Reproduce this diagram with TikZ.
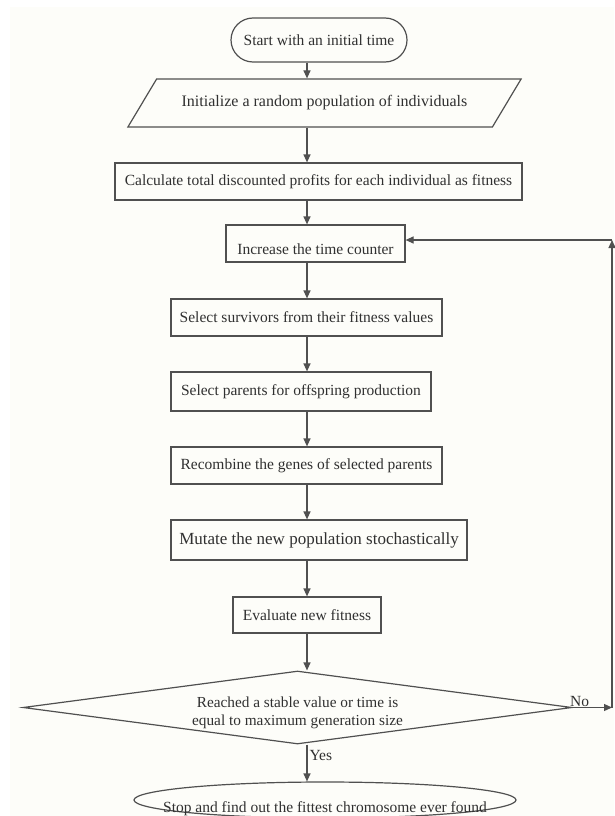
\documentclass[tikz,border=0pt]{standalone}
\usepackage{fontspec}
\setmainfont{Liberation Serif}
\usetikzlibrary{shapes.geometric,shapes.misc,arrows.meta}
\definecolor{linegray}{HTML}{505050}
\definecolor{textgray}{HTML}{303030}
\definecolor{paper}{HTML}{FDFDF9}

\begin{document}
\begin{tikzpicture}[x=1pt,y=-1pt,
    every node/.style={text=textgray, font=\fontsize{15.5}{17}\selectfont},
    box/.style={draw=linegray, line width=1.2pt, inner sep=0pt},
    arr/.style={draw=linegray, line width=1.2pt, -{Triangle[length=8pt,width=7pt]}}]
  \useasboundingbox (0,0) rectangle (614,816);
  \fill[paper] (10,7) rectangle (614,816);
  \coordinate (ax) at (307,0);

  \node [box, rounded rectangle, minimum width=176pt, minimum height=44pt] (start) at (319,40) {Start with an initial time};
  \node [box, trapezium, trapezium left angle=31, trapezium right angle=149, trapezium stretches=true,
         minimum width=395pt, minimum height=48pt, font=\fontsize{16}{18}\selectfont] (init) at (324.5,103) {Initialize a random population of individuals};
  \node [box, minimum width=407pt, minimum height=37pt] (calc) at (318.5,181.5) {Calculate total discounted profits for each individual as fitness};
  \node [box, minimum width=179pt, minimum height=37pt, text height=22pt, text depth=0pt] (inc) at (315.5,243.5) {Increase the time counter};
  \node [box, minimum width=271pt, minimum height=37pt] (surv) at (306.5,317.5) {Select survivors from their fitness values};
  \node [box, minimum width=260pt, minimum height=39pt] (par) at (301,391.5) {Select parents for offspring production};
  \node [box, minimum width=271pt, minimum height=37pt] (rec) at (306.5,465.5) {Recombine the genes of selected parents};
  \node [box, minimum width=296pt, minimum height=40pt, font=\fontsize{17}{19}\selectfont] (mut) at (319,540) {Mutate the new population stochastically};
  \node [box, minimum width=148pt, minimum height=36pt] (eva) at (307,615) {Evaluate new fitness};
  \node [box, diamond, aspect=7.5, minimum width=549pt, minimum height=73pt, align=center,
         font=\fontsize{15.3}{18}\selectfont] (dec) at (297.5,707.5) {\rule{0pt}{21pt}Reached a stable value or time is\\equal to maximum generation size};
  \node [box, ellipse, minimum width=382pt, minimum height=36pt, text height=25pt, text depth=0pt] (stop) at (325,800) {\makebox[0pt]{Stop and find out the fittest chromosome ever found}};

  \draw [arr] (start.south -| ax) -- (init.north -| ax);
  \draw [arr] (init.south -| ax) -- (calc.north -| ax);
  \draw [arr] (calc.south -| ax) -- (inc.north -| ax);
  \draw [arr] (inc.south -| ax) -- (surv.north -| ax);
  \draw [arr] (surv.south -| ax) -- (par.north -| ax);
  \draw [arr] (par.south -| ax) -- (rec.north -| ax);
  \draw [arr] (rec.south -| ax) -- (mut.north -| ax);
  \draw [arr] (mut.south -| ax) -- (eva.north -| ax);
  \draw [arr] (eva.south -| ax) -- (dec.north -| ax);
  \draw [arr] (dec.south -| ax) -- node [pos=0.3, right, inner sep=2pt] {Yes} (stop.north -| ax);

  % loop back when not reached
  \coordinate (loop) at (612,707.5);
  \coordinate (top) at (612,240);
  \draw [arr] (dec.east) -- node [pos=0.18, above, inner sep=0.5pt] {No} (loop);
  \draw [arr] (loop) -- (top);
  \draw [arr] (top) -- (inc.east |- top);
\end{tikzpicture}
\end{document}
